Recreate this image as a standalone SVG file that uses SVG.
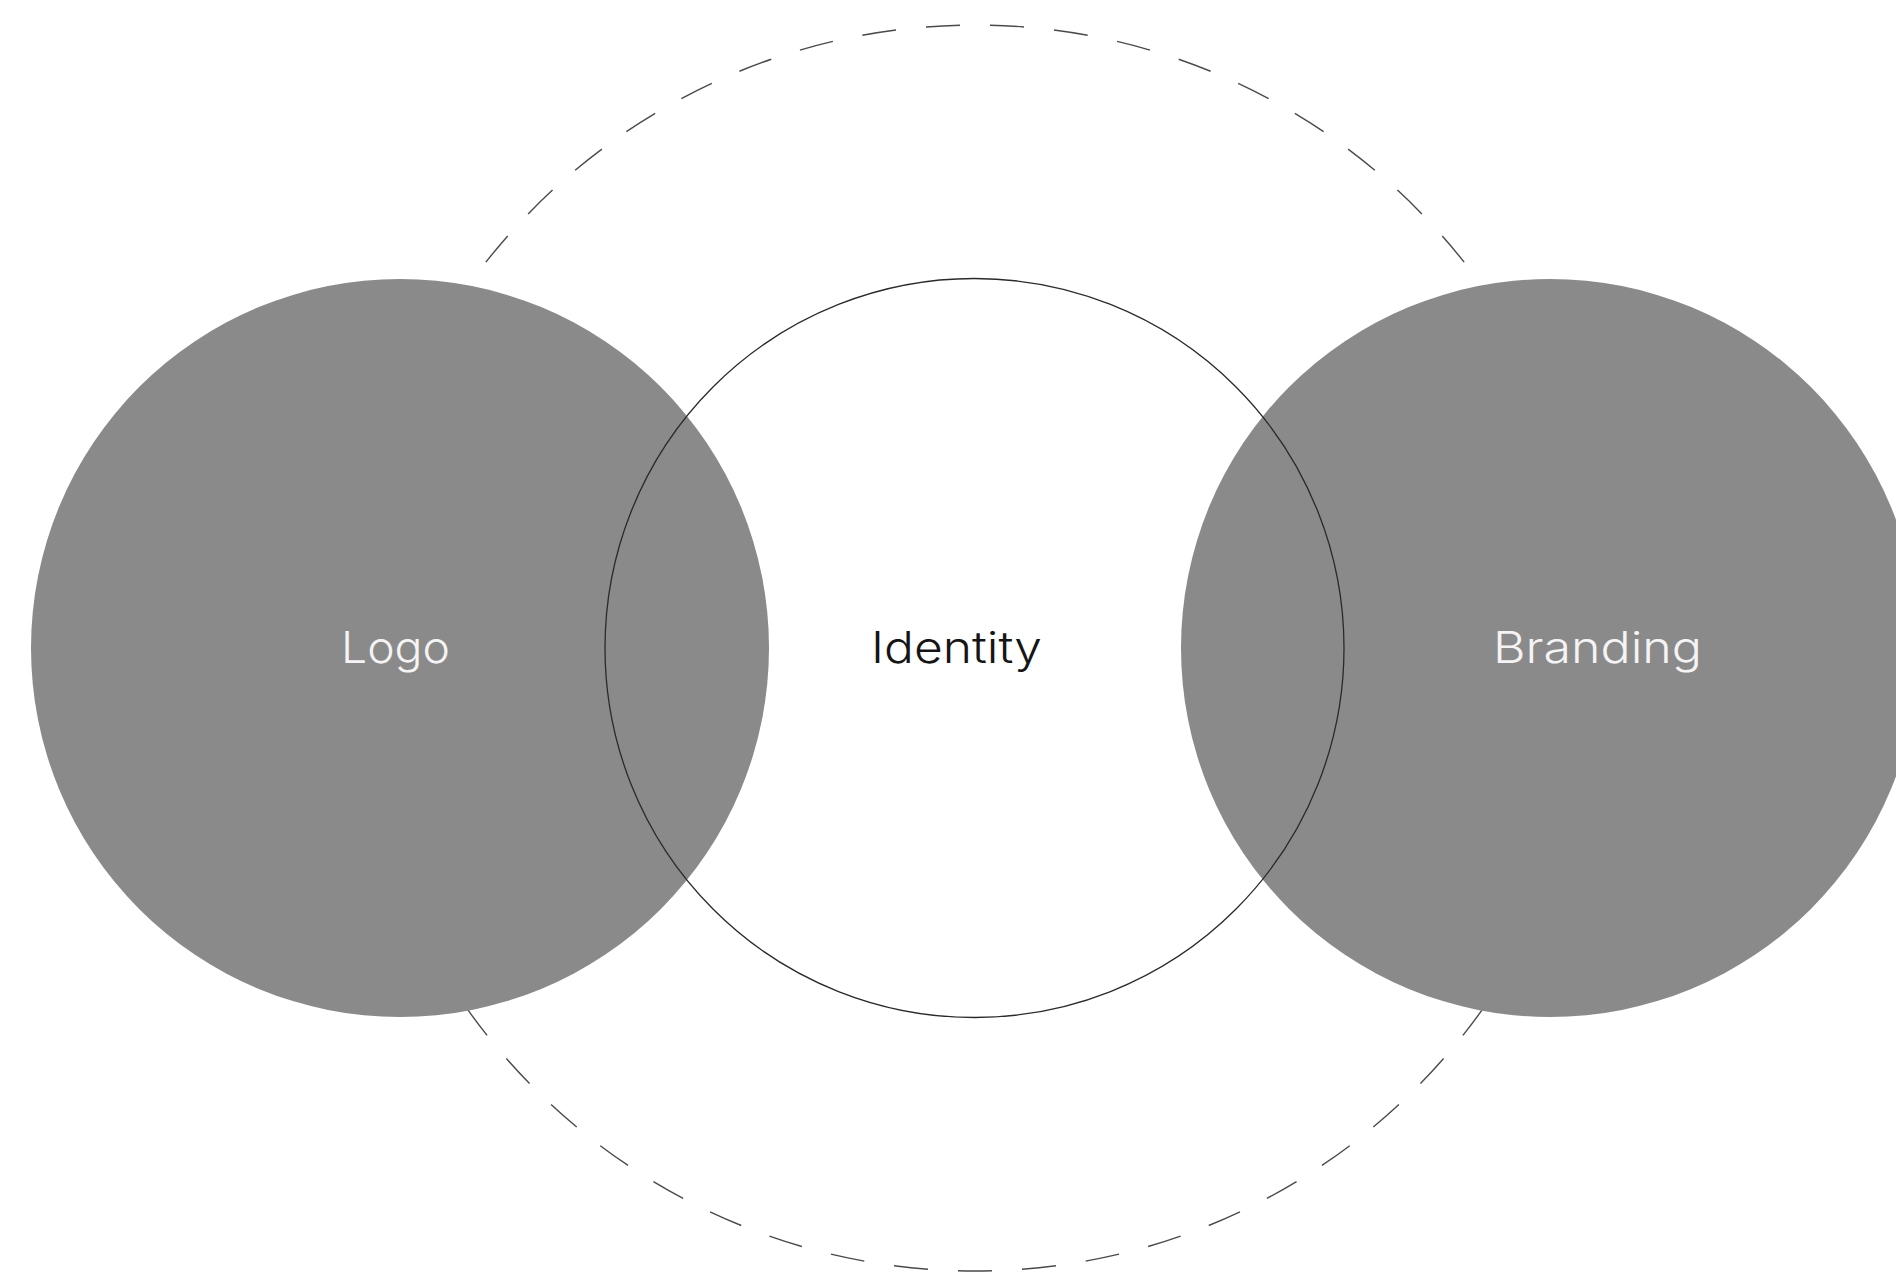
<svg xmlns="http://www.w3.org/2000/svg" width="1896" height="1277" viewBox="0 0 1896 1277">
  <style>
    .ring { fill: none; stroke: #4a4a4a; stroke-width: 1.4; stroke-dasharray: 34 30; stroke-dashoffset: 1; }
    .gray { fill: #8a8a8a; }
    .outline { fill: none; stroke: #2a2a2a; stroke-width: 1.3; }
    .lbl { font-family: "Inter", "Liberation Sans", "DejaVu Sans", sans-serif; font-weight: 300; font-size: 44px; text-anchor: middle; }
    .light { fill: #f4f4f4; }
    .dark { fill: #151515; }
  </style>
  <rect x="0" y="0" width="1896" height="1277" fill="#ffffff"/>
  <g id="connectors">
    <circle class="ring" cx="975" cy="648" r="623" pathLength="3904"/>
  </g>
  <g id="logo">
    <circle class="gray" cx="400" cy="648" r="369"/>
  </g>
  <g id="branding">
    <circle class="gray" cx="1550" cy="648" r="369"/>
  </g>
  <g id="identity">
    <circle class="outline" cx="974.5" cy="648" r="369.5"/>
    <text class="lbl dark" x="956.5" y="663" textLength="171" lengthAdjust="spacingAndGlyphs">Identity</text>
  </g>
  <g id="logo-label">
    <text class="lbl light" x="395.5" y="663" textLength="109" lengthAdjust="spacingAndGlyphs">Logo</text>
  </g>
  <g id="branding-label">
    <text class="lbl light" x="1597.5" y="663" textLength="209" lengthAdjust="spacingAndGlyphs">Branding</text>
  </g>
</svg>
